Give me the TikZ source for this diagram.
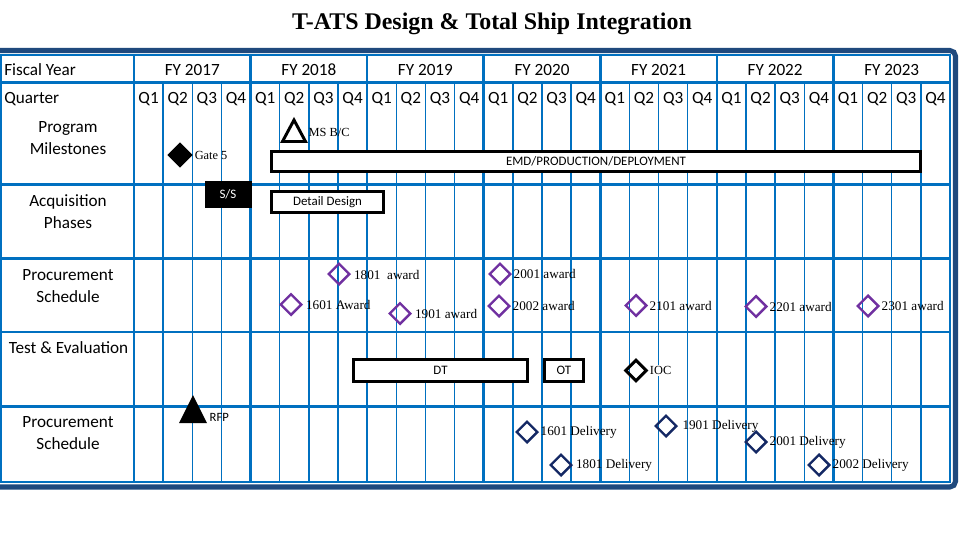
\documentclass[tikz,border=0pt]{standalone}
\usepackage{fontspec}
\setmainfont{Liberation Serif}
\newfontfamily\calibri{Carlito}
\usepackage{tikz}
\usetikzlibrary{shapes.geometric,positioning}
\definecolor{gridblue}{RGB}{0,112,192}
\definecolor{framenavy}{RGB}{31,73,125}
\definecolor{awardpurple}{RGB}{112,48,160}
\definecolor{delivnavy}{RGB}{20,40,100}

\begin{document}
\begin{tikzpicture}[x=0.025cm, y=-0.025cm,
    gridthick/.style={gridblue, line width=1.8pt},
    gridthin/.style={gridblue, line width=1.05pt},
    hdr/.style={font=\calibri\fontsize{12.2}{15.6}\selectfont, inner sep=0pt},
    rowlbl/.style={hdr, align=center},
    phase/.style={rectangle, draw=black, line width=2.1pt, fill=white,
        font=\calibri\fontsize{9.2}{11}\selectfont, inner sep=0pt},
    award/.style={diamond, draw=awardpurple, line width=1.7pt,
        minimum size=0.54cm, inner sep=0pt},
    deliv/.style={award, draw=delivnavy},
    marklbl/.style={font=\fontsize{9.4}{11}\selectfont, inner sep=1pt},
    mslbl/.style={font=\fontsize{8.8}{10}\selectfont, inner sep=1pt},
    sanslbl/.style={font=\calibri\fontsize{9}{11}\selectfont, inner sep=1pt}
]
    \fill[white] (0,0) rectangle (960,540);
    \useasboundingbox (0,0) rectangle (960,540);

    \node[font=\bfseries\fontsize{17}{20}\selectfont] (title) at (492,24)
        {T-ATS Design \& Total Ship Integration};

    % grid
    \foreach \k in {1,...,27}
        \draw[gridthin] ({134+\k*29.143},82.5) -- ({134+\k*29.143},482);
    \foreach \k in {1,...,6}
        \draw[gridthick] ({134+\k*116.571},55) -- ({134+\k*116.571},482);
    \foreach \y in {82.5,184.5,258.5,332,406.5}
        \draw[gridthick] (1,\y) -- (950,\y);
    \draw[gridthick] (134,55) -- (134,482);
    \draw[gridthick] (1,55) rectangle (950,482);
    \draw[framenavy, line width=3.6pt, rounded corners=4pt] (-10,50.5) rectangle (955.5,487);

    % headers
    \node[hdr, anchor=west] (fiscal) at (4,70) {Fiscal Year};
    \node[hdr, anchor=west] (quarter) at (4,99) {Quarter};
    \foreach \yr [count=\k from 0] in {2017,...,2023}
        \node[hdr] (fy\yr) at ({134+(\k+0.5)*116.571},70) {FY \yr};
    \foreach \k in {0,...,27} {
        \pgfmathtruncatemacro{\qn}{mod(\k,4)+1}
        \node[hdr] (q\k) at ({134+(\k+0.5)*29.143},99) {Q\qn};
    }

    \node[rowlbl] (progms) at (68,138) {Program\\Milestones};
    \node[rowlbl] (acqph) at (68,211.5) {Acquisition\\Phases};
    \node[rowlbl] (procA) at (68,286) {Procurement\\Schedule};
    \node[rowlbl] (testev) at (68.5,348) {Test \& Evaluation};
    \node[rowlbl] (procB) at (68,433.5) {Procurement\\Schedule};

    % program milestones
    \node[diamond, fill=black, minimum size=0.64cm, inner sep=0pt] (gate5) at (180,155) {};
    \node[mslbl, right=0pt of gate5] (gate5lbl) {Gate 5};
    \draw[black, line width=2.1pt] (294,120) -- (305.5,141.5) -- (282.5,141.5) -- cycle;
    \node[mslbl, anchor=west] (msbc) at (307,132) {MS B/C};
    \node[phase, minimum width=16.225cm, minimum height=0.5cm] (emd) at (596,161.5)
        {EMD/PRODUCTION/DEPLOYMENT};

    % acquisition phases
    \node[phase, draw=black, fill=black, text=white, line width=0.2pt,
        minimum width=1.15cm, minimum height=0.65cm] (ss) at (228,194) {S/S};
    \node[phase, minimum width=2.8cm, minimum height=0.54cm] (detail) at (327.5,202) {Detail Design};

    % procurement awards
    \node[award] (a1801) at (339,274) {};
    \node[marklbl, right=1pt of a1801, yshift=-1pt] (t1801) {1801\ \ award};
    \node[award] (a1601) at (291,304.5) {};
    \node[marklbl, right=1pt of a1601] (t1601) {1601 Award};
    \node[award] (a1901) at (400,313.5) {};
    \node[marklbl, right=1pt of a1901] (t1901) {1901 award};
    \node[award] (a2001) at (500,274) {};
    \node[marklbl, right=0pt of a2001] (t2001) {2001 award};
    \node[award] (a2002) at (499,306) {};
    \node[marklbl, right=0pt of a2002] (t2002) {2002 award};
    \node[award] (a2101) at (636,305.5) {};
    \node[marklbl, right=0pt of a2101] (t2101) {2101 award};
    \node[award] (a2201) at (756,306.5) {};
    \node[marklbl, right=0pt of a2201] (t2201) {2201 award};
    \node[award] (a2301) at (868,306) {};
    \node[marklbl, right=0pt of a2301] (t2301) {2301 award};

    % test & evaluation
    \node[phase, minimum width=4.35cm, minimum height=0.55cm] (dt) at (440.5,370.5) {DT};
    \node[phase, minimum width=0.975cm, minimum height=0.55cm] (ot) at (564,370.5) {OT};
    \node[award, draw=black, line width=2.1pt] (ioc) at (636,370.5) {};
    \node[mslbl, fill=white, right=0pt of ioc] (ioclbl) {IOC};

    % deliveries
    \fill[black] (193,395) -- (207,423) -- (179,423) -- cycle;
    \node[sanslbl, anchor=west] (rfp) at (208,417) {RFP};
    \node[deliv] (d1601) at (527,432) {};
    \node[marklbl, right=0pt of d1601] (u1601) {1601 Delivery};
    \node[deliv] (d1801) at (561,465) {};
    \node[marklbl, right=1pt of d1801] (u1801) {1801 Delivery};
    \node[deliv] (d1901) at (666,426) {};
    \node[marklbl, right=2pt of d1901] (u1901) {1901 Delivery};
    \node[deliv] (d2001) at (756,442) {};
    \node[marklbl, right=0pt of d2001] (u2001) {2001 Delivery};
    \node[deliv] (d2002) at (819,465) {};
    \node[marklbl, right=0pt of d2002] (u2002) {2002 Delivery};
\end{tikzpicture}
\end{document}
